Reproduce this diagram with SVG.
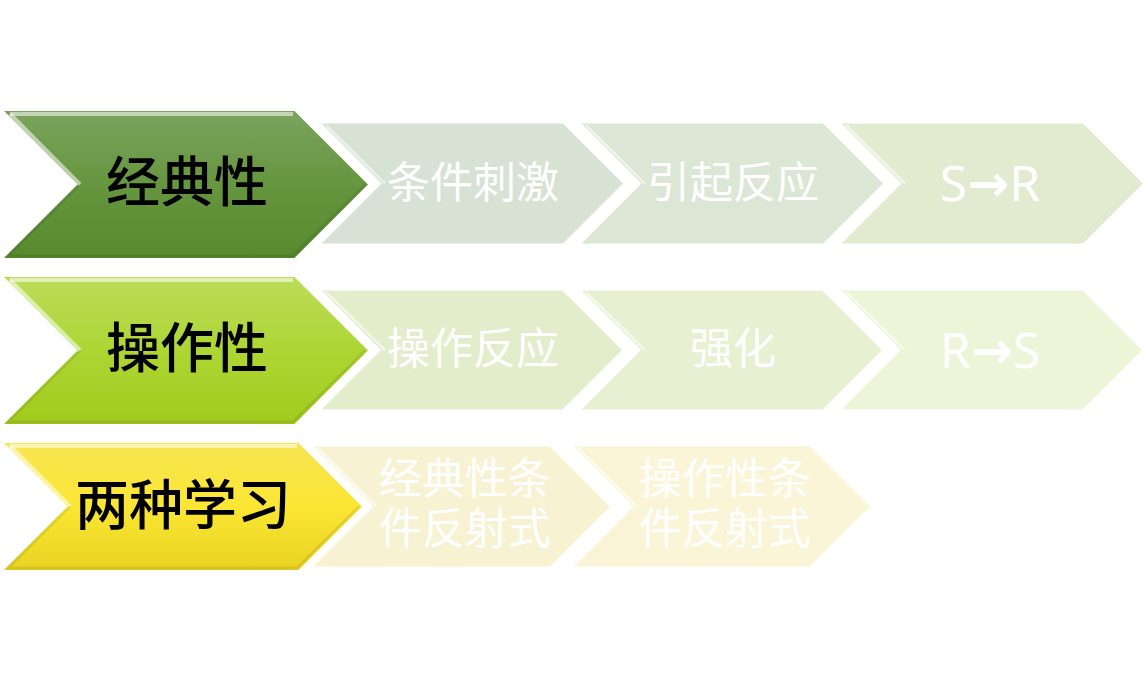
<svg xmlns="http://www.w3.org/2000/svg" width="1143" height="679" viewBox="0 0 1143 679">
<defs>
<linearGradient id="g1" x1="0" y1="0" x2="0" y2="1"><stop offset="0" stop-color="#7ba35e"/><stop offset="0.5" stop-color="#66963f"/><stop offset="1" stop-color="#578a2e"/></linearGradient>
<linearGradient id="g2" x1="0" y1="0" x2="0" y2="1"><stop offset="0" stop-color="#bcdc5a"/><stop offset="0.5" stop-color="#add634"/><stop offset="1" stop-color="#a2cb1e"/></linearGradient>
<linearGradient id="g3" x1="0" y1="0" x2="0" y2="1"><stop offset="0" stop-color="#f6e552"/><stop offset="0.5" stop-color="#fbe634"/><stop offset="1" stop-color="#e9d322"/></linearGradient>
<style>
.main{stroke:none}
.hl{fill:none;stroke:#ffffff;stroke-opacity:0.55;stroke-width:4;stroke-linejoin:miter}
.sh{fill:none;stroke:#000000;stroke-opacity:0.08;stroke-width:3}
.sec{stroke:#ffffff;stroke-width:3}
.secin{fill:none;stroke:#ffffff;stroke-opacity:0.6;stroke-width:2}
.mt{font-family:"Noto Sans CJK SC","Noto Sans",sans-serif;font-size:54px;fill:#000000;text-anchor:middle;font-weight:500}
.st{font-family:"Noto Sans CJK SC","Noto Sans",sans-serif;font-size:43px;fill:#ffffff;text-anchor:middle}
.lt{font-family:"Noto Sans","Noto Sans CJK SC",sans-serif;font-size:50px;fill:#ffffff;text-anchor:middle}
.ar{font-family:"DejaVu Sans",sans-serif;font-weight:bold}
</style>
</defs>

<g id="connectors"></g>

<!-- Row 1 secondaries -->
<g id="r1s3">
<polygon class="sec" fill="#e2ead0" points="838,122 1083.5,122 1145,183.5 1083.5,245 838,245 899.5,183.5"/>
<polyline class="secin" points="846,125 905,183.5"/>
<text class="lt" x="990" y="201">S<tspan class="ar">→</tspan>R</text>
</g>
<g id="r1s2">
<polygon class="sec" fill="#dce6d4" points="578,122 823.5,122 885,183.5 823.5,245 578,245 639.5,183.5"/>
<polyline class="secin" points="586,125 645,183.5"/>
<text class="st" x="733" y="198">引起反应</text>
</g>
<g id="r1s1">
<polygon class="sec" fill="#d7e2d5" points="318,122 563.5,122 625,183.5 563.5,245 318,245 379.5,183.5"/>
<polyline class="secin" points="326,125 385,183.5"/>
<text class="st" x="473" y="198">条件刺激</text>
</g>
<g id="r1m">
<polygon class="main" fill="url(#g1)" points="4,111 294.5,111 368,184.5 294.5,258 4,258 77.5,184.5"/>
<polyline class="hl" points="10,114 293,114"/>
<polyline class="hl" points="10,114 80,184.5"/>
<polyline class="sh" points="80,184.5 8,256 293,256 365,184.5"/>
<text class="mt" x="187" y="202">经典性</text>
</g>

<!-- Row 2 secondaries -->
<g id="r2s3">
<polygon class="sec" fill="#eef4d8" points="838,289 1083,289 1144,350 1083,411 838,411 899,350"/>
<polyline class="secin" points="846,292 905,350"/>
<text class="lt" x="990" y="368">R<tspan class="ar">→</tspan>S</text>
</g>
<g id="r2s2">
<polygon class="sec" fill="#e8f0d2" points="578,289 823,289 884,350 823,411 578,411 639,350"/>
<polyline class="secin" points="586,292 645,350"/>
<text class="st" x="733" y="364">强化</text>
</g>
<g id="r2s1">
<polygon class="sec" fill="#e3edcc" points="318,289 563,289 624,350 563,411 318,411 379,350"/>
<polyline class="secin" points="326,292 385,350"/>
<text class="st" x="473" y="364">操作反应</text>
</g>
<g id="r2m">
<polygon class="main" fill="url(#g2)" points="4,277 294.5,277 368,350.5 294.5,424 4,424 77.5,350.5"/>
<polyline class="hl" points="10,280 293,280"/>
<polyline class="hl" points="10,280 80,350.5"/>
<polyline class="sh" points="80,350.5 8,422 293,422 365,350.5"/>
<text class="mt" x="187" y="368">操作性</text>
</g>

<!-- Row 3 secondaries -->
<g id="r3s2">
<polygon class="sec" fill="#f9f5d6" points="570,445 810.5,445 872,506.5 810.5,568 570,568 631.5,506.5"/>
<polyline class="secin" points="578,448 637,506.5"/>
<text class="st" x="725" y="494">操作性条</text>
<text class="st" x="725" y="544">件反射式</text>
</g>
<g id="r3s1">
<polygon class="sec" fill="#f7f3d2" points="310,445 550.5,445 612,506.5 550.5,568 310,568 371.5,506.5"/>
<polyline class="secin" points="318,448 377,506.5"/>
<text class="st" x="465" y="494">经典性条</text>
<text class="st" x="465" y="544">件反射式</text>
</g>
<g id="r3m">
<polygon class="main" fill="url(#g3)" points="4,443 298.5,443 362,506.5 298.5,570 4,570 67.5,506.5"/>
<polyline class="hl" points="10,446 297,446"/>
<polyline class="hl" points="10,446 70,506.5"/>
<polyline class="sh" points="70,506.5 8,568 297,568 359,506.5"/>
<text class="mt" x="183" y="525">两种学习</text>
</g>
</svg>
